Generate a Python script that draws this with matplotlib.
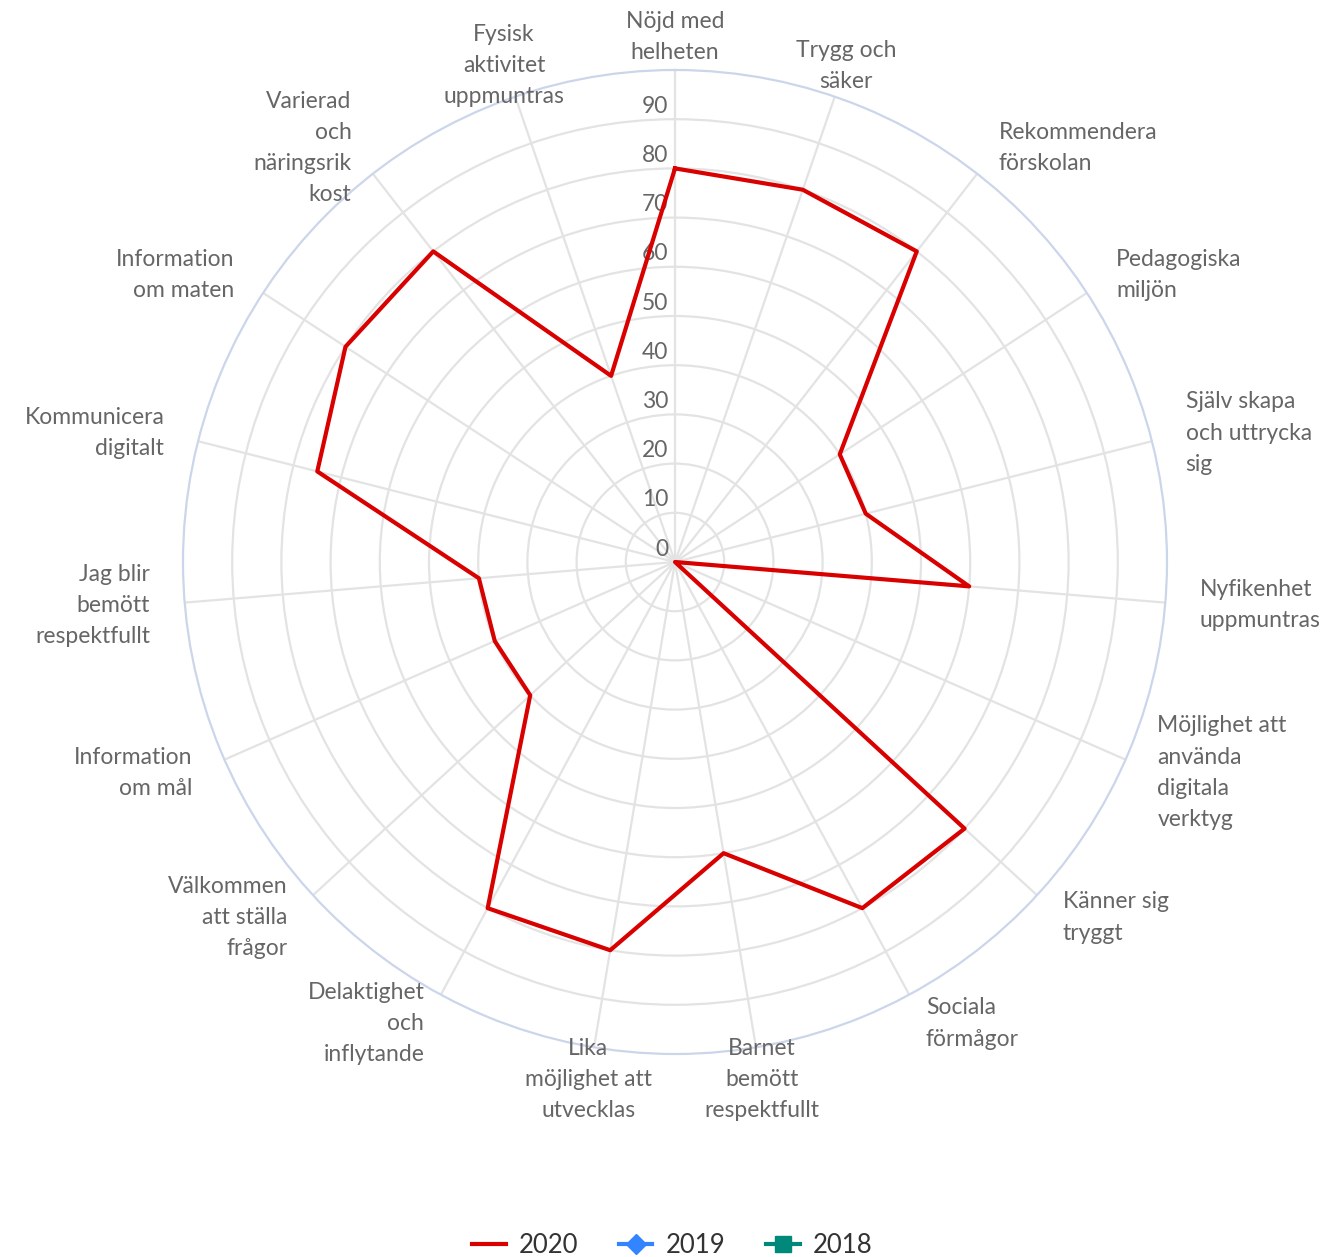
import numpy as np
import matplotlib
matplotlib.use("Agg")
import matplotlib.pyplot as plt
from matplotlib.transforms import offset_copy
from matplotlib.lines import Line2D

plt.rcParams['font.family'] = ['Lato', 'DejaVu Sans']

categories = [
    "Nöjd med\nhelheten", "Trygg och\nsäker", "Rekommendera\nförskolan",
    "Pedagogiska\nmiljön", "Själv skapa\noch uttrycka\nsig", "Nyfikenhet\nuppmuntras",
    "Möjlighet att\nanvända\ndigitala\nverktyg", "Känner sig\ntryggt", "Sociala\nförmågor",
    "Barnet\nbemött\nrespektfullt", "Lika\nmöjlighet att\nutvecklas",
    "Delaktighet\noch\ninflytande", "Välkommen\natt ställa\nfrågor", "Information\nom mål",
    "Jag blir\nbemött\nrespektfullt", "Kommunicera\ndigitalt", "Information\nom maten",
    "Varierad\noch\nnäringsrik\nkost", "Fysisk\naktivitet\nuppmuntras",
]
values_2020 = [80, 80, 80, 40, 40, 60, 0, 80, 80, 60, 80, 80, 40, 40, 40, 75, 80, 80, 40]
values_2019 = []
values_2018 = []
radial_ticks = [0, 10, 20, 30, 40, 50, 60, 70, 80, 90]
series_names = ["2020", "2019", "2018"]
colors = ["#d90000", "#3385ff", "#00897b"]

n = len(categories)
angles = np.arange(n) * 2 * np.pi / n

fig = plt.figure(figsize=(13.31, 12.57), dpi=100)
ax = fig.add_axes([183 / 1331, 203 / 1257, 984 / 1331, 984 / 1257], projection='polar')
ax.set_theta_zero_location('N')
ax.set_theta_direction(-1)
ax.set_ylim(0, 100)
ax.set_xticks(angles)
ax.set_xticklabels([])
ax.set_yticks(radial_ticks[1:])
ax.set_yticklabels([])
ax.tick_params(length=0)
ax.grid(color='#e3e3e3', lw=1.6)
ax.spines['polar'].set_color('#ccd6eb')
ax.spines['polar'].set_linewidth(1.6)

# 2020 series (closed polygon)
th = np.append(angles, angles[0])
vals = values_2020 + values_2020[:1]
ax.plot(th, vals, color=colors[0], lw=3, zorder=5)

# radial tick labels along the top spoke
tick_tr = offset_copy(ax.transData, fig=fig, x=-7, y=13, units='dots')
for t in radial_ticks:
    ax.text(0, t, str(t), transform=tick_tr, ha='right', va='center',
            fontsize=16.5, color='#666666')

# category labels
for a, lab in zip(angles, categories):
    s, c = np.sin(a), np.cos(a)
    if abs(s) < 0.4:
        ha = 'center'
    elif s > 0:
        ha = 'left'
    else:
        ha = 'right'
    tr = offset_copy(ax.transData, fig=fig, x=20 * s, y=18 * c, units='dots')
    ax.text(a, 103, lab, transform=tr, ha=ha, va='center', fontsize=16.5,
            color='#666666', linespacing=1.6)

handles = [
    Line2D([], [], color=colors[0], lw=3),
    Line2D([], [], color=colors[1], lw=3, marker='D', markersize=10),
    Line2D([], [], color=colors[2], lw=3, marker='s', markersize=11),
]
fig.legend(handles, series_names, loc='center', bbox_to_anchor=(0.505, 0.0095),
           ncol=3, frameon=False, fontsize=18.5, labelcolor='#333333',
           handlelength=1.3, columnspacing=1.6, handletextpad=0.5)

fig.savefig('out.png', dpi=100)
